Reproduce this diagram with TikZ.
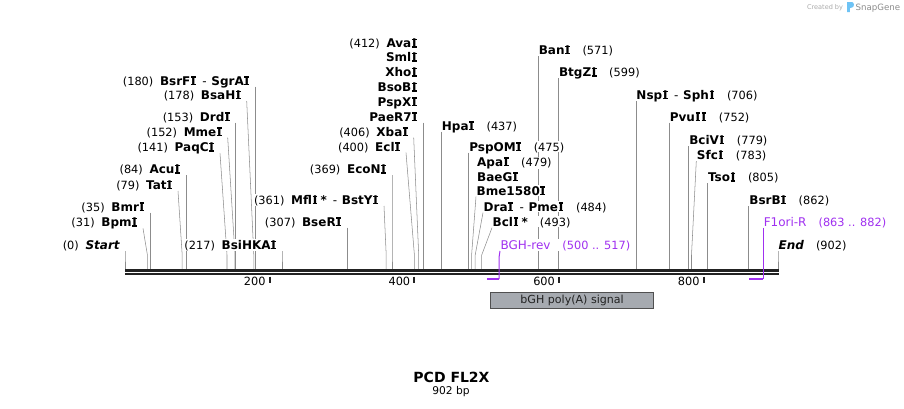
\documentclass[tikz,border=0pt]{standalone}
\usepackage{fontspec}
\setmainfont{DejaVu Sans}
\usetikzlibrary{backgrounds}
\definecolor{cutgray}{RGB}{140,140,140}
\definecolor{seqdark}{RGB}{34,34,34}
\definecolor{primerpurple}{RGB}{160,48,240}
\definecolor{featgray}{RGB}{166,170,176}
\definecolor{featedge}{RGB}{80,80,80}
\definecolor{sgblue}{RGB}{110,195,245}
\definecolor{wmgray}{RGB}{170,170,170}
\newcommand{\sitenum}[1]{{\fontsize{8.5}{10}\selectfont\mdseries\upshape #1}}
\newcommand{\dashsep}{\hspace{4.5pt}{\mdseries-}\hspace{3.5pt}}
% capital I with serifs, as the map prints it
\newcommand{\sI}{\hbox to 0.5em{\hss\ooalign{\hfil I\hfil\cr\rule{0.4em}{0.11em}\cr\rule[0.619em]{0.4em}{0.11em}\cr}\hss}}

\tikzset{every picture/.style={line width=0.75pt}}
\tikzset{
  cut/.style={color=cutgray},
  lsite/.style={anchor=south east, inner xsep=0.5pt, inner ysep=1pt, outer xsep=3.5pt, outer ysep=0.2pt,
    text height=6.6pt, text depth=0pt, fill=white, font=\fontsize{9}{10}\selectfont\bfseries},
  rsite/.style={lsite, anchor=south west, outer xsep=0pt},
  lrow/.style={anchor=base east, inner sep=0pt, fill=white, font=\fontsize{9}{10}\selectfont\bfseries},
  rrow/.style={lrow, anchor=base west},
  primer/.style={color=primerpurple},
  primerlabel/.style={rsite, text=primerpurple, fill=white, font=\fontsize{9}{10}\selectfont},
  tick/.style={color=seqdark, line width=1.5pt},
  ticklabel/.style={anchor=base east, inner sep=0pt, font=\fontsize{8.5}{10}\selectfont},
}

\begin{document}
\begin{tikzpicture}[x=0.75pt,y=0.75pt,yscale=-1,xscale=1]
\useasboundingbox (0,0) rectangle (904,408);

%Sites: top of the straight drop onto the sequence
\coordinate (s0) at (125,255);
\coordinate (s31) at (147.4,255);
\coordinate (s35) at (150.3,255);
\coordinate (s79) at (182.2,255);
\coordinate (s84) at (185.8,255);
\coordinate (s141) at (227,255);
\coordinate (s152) at (235,255);
\coordinate (s153) at (235.7,255);
\coordinate (s178) at (253.8,255);
\coordinate (s180) at (255.2,255);
\coordinate (s217) at (282,255);
\coordinate (s307) at (347.1,255);
\coordinate (s361) at (386.2,255);
\coordinate (s369) at (392,255);
\coordinate (s400) at (414.4,255);
\coordinate (s406) at (418.7,255);
\coordinate (s412) at (423.1,255);
\coordinate (s437) at (441.2,255);
\coordinate (s475) at (468.7,255);
\coordinate (s479) at (471.6,255);
\coordinate (s484) at (475.2,255);
\coordinate (s493) at (481.7,255);
\coordinate (s571) at (538.1,255);
\coordinate (s599) at (558.4,255);
\coordinate (s706) at (635.8,255);
\coordinate (s752) at (669.1,255);
\coordinate (s779) at (688.6,255);
\coordinate (s783) at (691.5,255);
\coordinate (s805) at (707.4,255);
\coordinate (s862) at (748.7,255);
\coordinate (s902) at (778,255);
%Primer ends
\coordinate (k517) at (499.1,257);
\coordinate (p517) at (499.1,279);
\coordinate (p500) at (486.8,279);
\coordinate (p882) at (763.1,279);
\coordinate (p863) at (749.4,279);

% Text Node (left of the cut)
\node[lsite] (start) at (125,251) {\sitenum{(0)}\hspace{5pt}\itshape Start};
\node[lsite] (bpmi) at (143,228.3) {\sitenum{(31)}\hspace{5pt}Bpm\sI};
\node[lsite] (bmri) at (150.3,212.7) {\sitenum{(35)}\hspace{5pt}Bmr\sI};
\node[lsite] (tati) at (178,191) {\sitenum{(79)}\hspace{5pt}Tat\sI};
\node[lsite] (acui) at (185.8,175.3) {\sitenum{(84)}\hspace{5pt}Acu\sI};
\node[lsite] (paqci) at (220,153.3) {\sitenum{(141)}\hspace{5pt}PaqC\sI};
\node[lsite] (mmei) at (227.7,137.7) {\sitenum{(152)}\hspace{5pt}Mme\sI};
\node[lsite] (drdi) at (235.7,122.7) {\sitenum{(153)}\hspace{5pt}Drd\sI};
\node[lsite] (bsahi) at (246.7,101) {\sitenum{(178)}\hspace{5pt}BsaH\sI};
\node[lsite] (bsrfi) at (255.2,86.7) {\sitenum{(180)}\hspace{5pt}BsrF\sI\dashsep SgrA\sI};
\node[lsite] (bsihkai) at (282,251) {\sitenum{(217)}\hspace{5pt}BsiHKA\sI};
\node[lsite] (bseri) at (347.1,227.7) {\sitenum{(307)}\hspace{5pt}BseR\sI};
\node[lsite] (mfli) at (384,206) {\sitenum{(361)}\hspace{5pt}Mfl\sI\hspace{2pt}*\dashsep BstY\sI};
\node[lsite] (econi) at (392,175.3) {\sitenum{(369)}\hspace{5pt}EcoN\sI};
\node[lsite] (ecli) at (406,152.7) {\sitenum{(400)}\hspace{5pt}Ecl\sI};
\node[lsite] (xbai) at (413.7,137.7) {\sitenum{(406)}\hspace{5pt}Xba\sI};
\node[lsite] (paer7i) at (423.1,122.7) {PaeR7\sI};
\node[lrow] (pspxi) at (417.8,106.1) {PspX\sI};
\node[lrow] (bsobi) at (417.8,91.7) {BsoB\sI};
\node[lrow] (xhoi) at (417.8,76.7) {Xho\sI};
\node[lrow] (smli) at (417.8,61.7) {Sml\sI};
\node[lrow] (avai) at (417.8,47.7) {\sitenum{(412)}\hspace{5pt}Ava\sI};

% Text Node (right of the cut)
\node[rsite] (hpai) at (441.2,131.7) {Hpa\sI\hspace{9pt}\sitenum{(437)}};
\node[rsite] (pspomi) at (468.7,152.7) {PspOM\sI\hspace{9pt}\sitenum{(475)}};
\node[rrow] (apai) at (476.7,166.1) {Apa\sI\hspace{9pt}\sitenum{(479)}};
\node[rrow] (baegi) at (476.7,181.1) {BaeG\sI};
\node[rsite] (bme1580i) at (476,196.7) {Bme1580\sI};
\node[rsite] (drai) at (483,212.7) {Dra\sI\dashsep Pme\sI\hspace{9pt}\sitenum{(484)}};
\node[rsite] (bcli) at (492,227.7) {Bcl\sI\hspace{2pt}*\hspace{9pt}\sitenum{(493)}};
\node[primerlabel] (bghrev) at (500,251) {BGH-rev\hspace{9pt}\sitenum{(500 .. 517)}};
\node[rsite] (bani) at (538.1,56) {Ban\sI\hspace{9pt}\sitenum{(571)}};
\node[rsite] (btgzi) at (558.4,78.3) {BtgZ\sI\hspace{9pt}\sitenum{(599)}};
\node[rsite] (nspi) at (635.8,101) {Nsp\sI\dashsep Sph\sI\hspace{9pt}\sitenum{(706)}};
\node[rsite] (pvuii) at (669.1,122.7) {Pvu\sI\sI\hspace{9pt}\sitenum{(752)}};
\node[rsite] (bcivi) at (688.6,146) {BciV\sI\hspace{9pt}\sitenum{(779)}};
\node[rsite] (sfci) at (696.3,161) {Sfc\sI\hspace{9pt}\sitenum{(783)}};
\node[rsite] (tsoi) at (707.4,183.3) {Tso\sI\hspace{9pt}\sitenum{(805)}};
\node[rsite] (bsrbi) at (748.7,206) {BsrB\sI\hspace{9pt}\sitenum{(862)}};
\node[primerlabel] (f1orir) at (763.1,227.7) {F1ori-R\hspace{9pt}\sitenum{(863 .. 882)}};
\node[rsite] (end) at (778,251) {\itshape End\hspace{9pt}\sitenum{(902)}};

%Straight Lines: cut sites
\begin{scope}[on background layer]
\draw[cut] (start.south east) -- (s0) -- ++(0,14);
\draw[cut] (bpmi.south east) -- (s31) -- ++(0,14);
\draw[cut] (bmri.south east) -- (s35) -- ++(0,14);
\draw[cut] (tati.south east) -- (s79) -- ++(0,14);
\draw[cut] (acui.south east) -- (s84) -- ++(0,14);
\draw[cut] (paqci.south east) -- (s141) -- ++(0,14);
\draw[cut] (mmei.south east) -- (s152) -- ++(0,14);
\draw[cut] (drdi.south east) -- (s153) -- ++(0,14);
\draw[cut] (bsahi.south east) -- (s178) -- ++(0,14);
\draw[cut] (bsrfi.south east) -- (s180) -- ++(0,14);
\draw[cut] (bsihkai.south east) -- (s217) -- ++(0,14);
\draw[cut] (bseri.south east) -- (s307) -- ++(0,14);
\draw[cut] (mfli.south east) -- (s361) -- ++(0,14);
\draw[cut] (econi.south east) -- (s369) -- ++(0,14);
\draw[cut] (ecli.south east) -- (s400) -- ++(0,14);
\draw[cut] (xbai.south east) -- (s406) -- ++(0,14);
\draw[cut] (paer7i.south east) -- (s412) -- ++(0,14);
\draw[cut] (hpai.south west) -- (s437) -- ++(0,14);
\draw[cut] (pspomi.south west) -- (s475) -- ++(0,14);
\draw[cut] (bme1580i.south west) -- (s479) -- ++(0,14);
\draw[cut] (drai.south west) -- (s484) -- ++(0,14);
\draw[cut] (bcli.south west) -- (s493) -- ++(0,14);
\draw[cut] (bani.south west) -- (s571) -- ++(0,14);
\draw[cut] (btgzi.south west) -- (s599) -- ++(0,14);
\draw[cut] (nspi.south west) -- (s706) -- ++(0,14);
\draw[cut] (pvuii.south west) -- (s752) -- ++(0,14);
\draw[cut] (bcivi.south west) -- (s779) -- ++(0,14);
\draw[cut] (sfci.south west) -- (s783) -- ++(0,14);
\draw[cut] (tsoi.south west) -- (s805) -- ++(0,14);
\draw[cut] (bsrbi.south west) -- (s862) -- ++(0,14);
\draw[cut] (end.south west) -- (s902) -- ++(0,14);
\end{scope}

%Straight Lines: sequence
\draw[seqdark, line width=2pt] (125,270.6) -- (778.7,270.6);
\draw[seqdark, line width=1.75pt] (125,274.2) -- (778.7,274.2);

%Ruler
\draw[tick] (269.7,276.5) -- (269.7,282.5);
\draw[tick] (414.4,276.5) -- (414.4,282.5);
\draw[tick] (559.1,276.5) -- (559.1,282.5);
\draw[tick] (703.8,276.5) -- (703.8,282.5);
\node[ticklabel] (r200) at (266,285) {200};
\node[ticklabel] (r400) at (410.7,285) {400};
\node[ticklabel] (r600) at (555.4,285) {600};
\node[ticklabel] (r800) at (700.1,285) {800};

%Primers
\draw[primer] (bghrev.south west) -- (k517) -- (p517);
\draw[primer, line width=1.5pt] (p500) -- (p517);
\draw[primer] (f1orir.south west) -- (p882);
\draw[primer, line width=1.5pt] (p863) -- (p882);

%Feature
\node[draw=featedge, fill=featgray, minimum width=122.3pt, minimum height=12pt, inner sep=0pt,
  font=\fontsize{8.3}{10}\selectfont, text=seqdark] (bghpa) at (572.1,300.3) {bGH poly(A) signal};

%Title
\node[font=\fontsize{10.5}{12}\selectfont\bfseries, inner sep=0pt] (title) at (451.5,377) {PCD FL2X};
\node[font=\fontsize{8}{10}\selectfont, inner sep=0pt] (length) at (451,392) {902 bp};

%Watermark
\node[anchor=east, inner sep=0pt, font=\fontsize{4.9}{6}\selectfont, text=wmgray] (crby) at (843.5,8) {Created by};
\fill[sgblue] (847,2) -- (852,2) .. controls (854.5,2) and (854.5,7.5) .. (852,7.5) -- (849.8,8.2) -- (849.8,12) -- (847,12) -- cycle;
\node[anchor=west, inner sep=0pt, font=\fontsize{6.5}{8}\selectfont, text=cutgray] (sg) at (855,8) {SnapGene};

\end{tikzpicture}
\end{document}
